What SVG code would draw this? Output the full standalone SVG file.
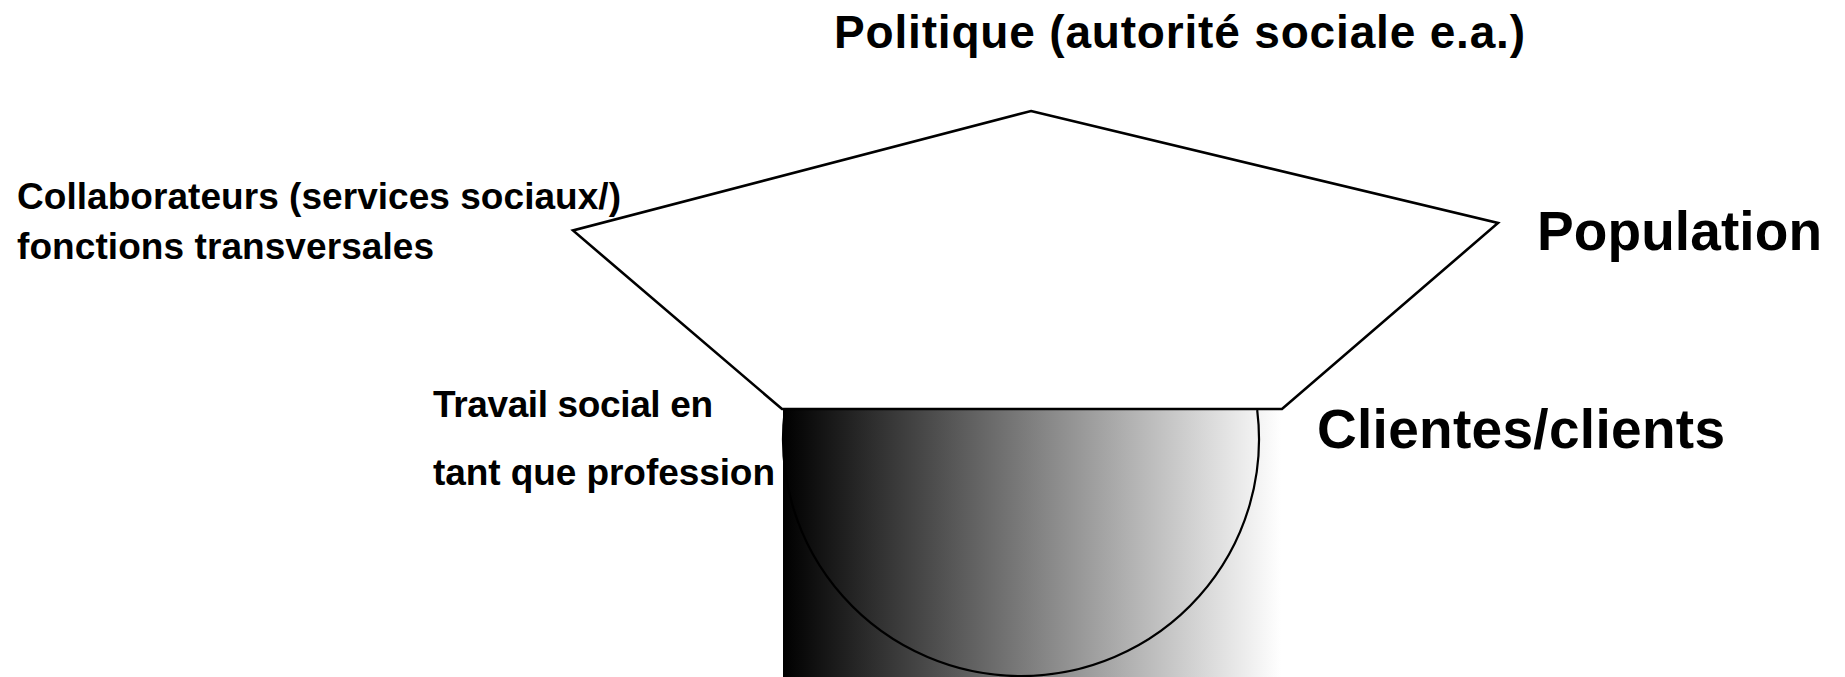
<svg xmlns="http://www.w3.org/2000/svg" width="1845" height="677" viewBox="0 0 1845 677">
  <style>
    .lbl { font-family: "Liberation Sans", Arial, Helvetica, sans-serif; font-weight: bold; fill: #000; }
    .outline { fill: none; stroke: #000; stroke-width: 2.2; }
  </style>
  <defs>
    <linearGradient id="shade" x1="0" y1="0" x2="1" y2="0">
      <stop offset="0" stop-color="#000000"/>
      <stop offset="1" stop-color="#ffffff"/>
    </linearGradient>
  </defs>
  <rect x="0" y="0" width="1845" height="677" fill="#ffffff"/>

  <g id="profession-base">
    <rect x="783" y="409" width="498" height="268" fill="url(#shade)"/>
    <path class="outline" d="M 784.8 410 A 238 237 0 1 0 1257.2 410"/>
  </g>

  <g id="pentagon">
    <polygon points="1031,111 1498,223 1282,409 782,409 573,230.5" fill="#ffffff" stroke="#000" stroke-width="2.6" stroke-linejoin="miter"/>
  </g>

  <g id="connectors"></g>

  <g id="label-politique">
    <text class="lbl" x="834" y="48" font-size="46" textLength="691" lengthAdjust="spacing">Politique (autorité sociale e.a.)</text>
  </g>
  <g id="label-collaborateurs">
    <text class="lbl" x="17" y="209" font-size="37" textLength="604" lengthAdjust="spacing">Collaborateurs (services sociaux/)</text>
    <text class="lbl" x="17" y="259" font-size="37" textLength="417" lengthAdjust="spacing">fonctions transversales</text>
  </g>
  <g id="label-population">
    <text class="lbl" x="1537" y="250" font-size="55" textLength="285" lengthAdjust="spacing">Population</text>
  </g>
  <g id="label-travail">
    <text class="lbl" x="433" y="417" font-size="37" textLength="280" lengthAdjust="spacing">Travail social en</text>
    <text class="lbl" x="433" y="485" font-size="37" textLength="342" lengthAdjust="spacing">tant que profession</text>
  </g>
  <g id="label-clients">
    <text class="lbl" x="1317" y="448" font-size="55" textLength="408" lengthAdjust="spacing">Clientes/clients</text>
  </g>
</svg>
